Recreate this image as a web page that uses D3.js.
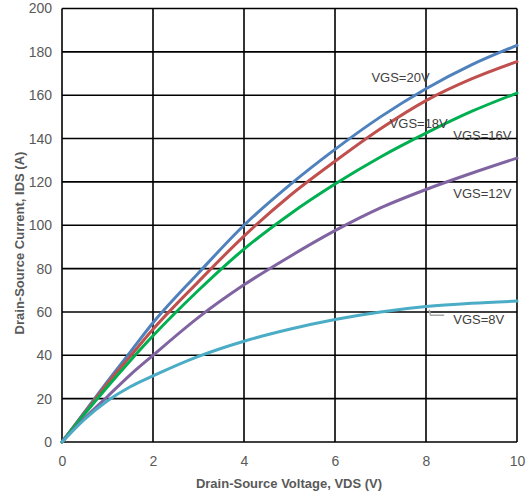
<!DOCTYPE html>
<html><head><meta charset="utf-8">
<script src="https://cdn.jsdelivr.net/npm/d3@7/dist/d3.min.js"></script>
<style>body{margin:0;background:#fff}svg{display:block}</style>
</head><body>
<svg id="c" width="530" height="498"></svg>
<script>
const vds = [0, 0.5, 1, 1.5, 2, 3, 4, 5, 6, 7, 8, 9, 10];
const vgs20 = [0, 14, 28, 41.5, 55, 78, 100, 118.5, 135, 150, 163, 174, 183];
const vgs18 = [0, 13.5, 27, 39.5, 52, 74, 95, 113.5, 129.5, 144.5, 157.5, 167.5, 175.5];
const vgs16 = [0, 13, 25.5, 37.5, 49, 70, 89, 105, 119, 131.5, 142.5, 152.5, 161];
const vgs12 = [0, 11, 21, 31, 40, 57.5, 72.5, 85.5, 97.5, 108, 116.5, 124, 131];
const vgs8  = [0, 10.5, 19, 25.5, 30.5, 39.5, 46.5, 52, 56.5, 60, 62.5, 64, 65];
const seriesNames = ["VGS=20V", "VGS=18V", "VGS=16V", "VGS=12V", "VGS=8V"];
const seriesColors = ["#4F81BD", "#C0504D", "#00B050", "#8064A2", "#4BACC6"];
const xTicks = [0, 2, 4, 6, 8, 10];
const yTicks = [0, 20, 40, 60, 80, 100, 120, 140, 160, 180, 200];
const xTitle = "Drain-Source Voltage, VDS (V)";
const yTitle = "Drain-Source Current, IDS (A)";
// label anchor points in data coords (x, y)
const labelPos = [[6.8, 166], [7.2, 145], [8.6, 139.5], [8.6, 112.5], [8.6, 54.5]];

const svg = d3.select("#c");
const L = 62, R = 517, T = 8.5, B = 442;
const x = d3.scaleLinear().domain([0, 10]).range([L, R]);
const y = d3.scaleLinear().domain([0, 200]).range([B, T]);

// grid
const g = svg.append("g");
g.selectAll("line.v").data(xTicks).enter().append("line")
  .attr("x1", d => x(d)).attr("x2", d => x(d)).attr("y1", T).attr("y2", B)
  .attr("stroke", "#000").attr("stroke-width", 1.6);
g.selectAll("line.h").data(yTicks).enter().append("line")
  .attr("x1", L).attr("x2", R).attr("y1", d => y(d)).attr("y2", d => y(d))
  .attr("stroke", "#000").attr("stroke-width", 1.6);

// axes labels via d3 axes
const xAxis = svg.append("g").attr("transform", `translate(0,${B})`)
  .call(d3.axisBottom(x).tickValues(xTicks).tickSize(0).tickPadding(14).tickFormat(d3.format("d")));
const yAxis = svg.append("g").attr("transform", `translate(${L},0)`)
  .call(d3.axisLeft(y).tickValues(yTicks).tickSize(0).tickPadding(10).tickFormat(d3.format("d")));
[xAxis, yAxis].forEach(a => {
  a.select(".domain").remove();
  a.selectAll("text").attr("fill", "#595959").style("font-family", "Liberation Sans, Arial, sans-serif").style("font-size", "14px");
});

// curves
const line = d3.line().x(d => x(d[0])).y(d => y(d[1])).curve(d3.curveMonotoneX);
const allSeries = [vgs20, vgs18, vgs16, vgs12, vgs8];
svg.append("g").selectAll("path").data(allSeries).enter().append("path")
  .attr("d", s => line(vds.map((v, i) => [v, s[i]])))
  .attr("fill", "none").attr("stroke", (d, i) => seriesColors[i]).attr("stroke-width", 3)
  .attr("stroke-linecap", "round");

// leader for VGS=8V
svg.append("path")
  .attr("d", `M${x(8.07)},${y(61)} L${x(8.1)},${y(58.5)} L${x(8.4)},${y(58.5)}`)
  .attr("fill", "none").attr("stroke", "#A6A6A6").attr("stroke-width", 1.5);

// series labels
svg.append("g").selectAll("text").data(seriesNames).enter().append("text")
  .attr("x", (d, i) => x(labelPos[i][0])).attr("y", (d, i) => y(labelPos[i][1]))
  .text(d => d).attr("fill", "#404040")
  .style("font-family", "Liberation Sans, Arial, sans-serif").style("font-size", "13px");

// axis titles
svg.append("text").attr("x", 289).attr("y", 488).attr("text-anchor", "middle")
  .text(xTitle).attr("fill", "#595959").style("font-weight", "bold")
  .style("font-family", "Liberation Sans, Arial, sans-serif").style("font-size", "13px");
svg.append("text").attr("transform", "translate(24,243) rotate(-90)").attr("text-anchor", "middle")
  .text(yTitle).attr("fill", "#595959").style("font-weight", "bold")
  .style("font-family", "Liberation Sans, Arial, sans-serif").style("font-size", "13px");
</script>
</body></html>
